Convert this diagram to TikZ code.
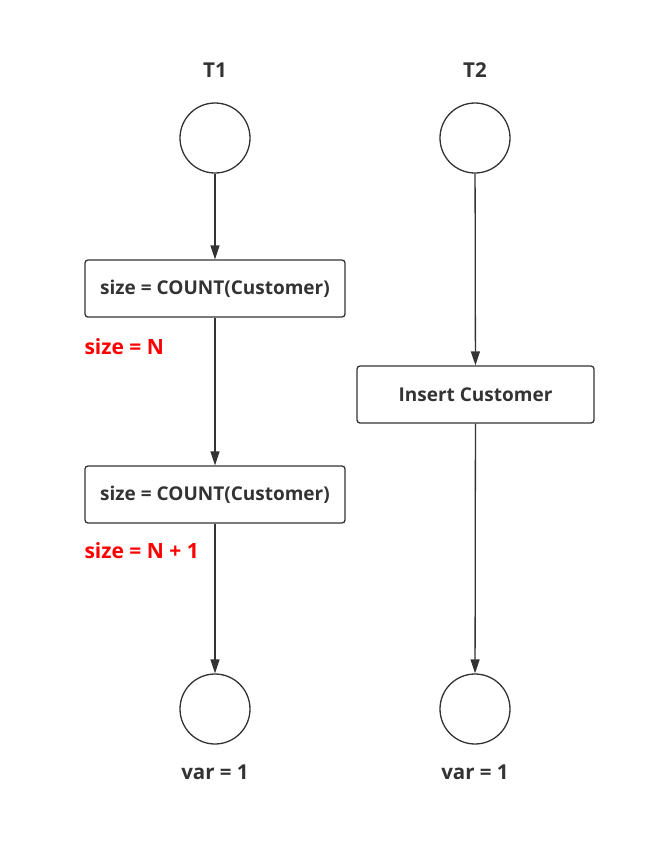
\documentclass[tikz,border=0pt]{standalone}
\usepackage{fontspec}
\setmainfont{Open Sans}
\usepackage{xcolor}
\usetikzlibrary{calc, positioning, arrows.meta}
\definecolor{ink}{HTML}{333333}
\definecolor{note}{HTML}{FF0000}

\begin{document}
\begin{tikzpicture}[x=1pt, y=-1pt, node distance=2.5cm,
    state/.style={draw=ink, line width=1.3pt, circle, minimum size=70pt, inner sep=0pt},
    opbox/.style={draw=ink, line width=1.3pt, rounded corners=3pt, minimum height=57pt, font=\bfseries\fontsize{19}{21}\selectfont, text=ink},
    title/.style={font=\bfseries\fontsize{20.5}{23}\selectfont, text=ink},
    remark/.style={font=\bfseries\fontsize{21}{23}\selectfont, text=note, anchor=west},
    flow/.style={draw=ink, line width=1.3pt, -{Triangle[length=14pt, width=9pt]}}]
    \useasboundingbox (0,0) rectangle (655,855);

    % Nodes
    \node [title] (T1) at (215,70) {T1};
    \node [title] (T2) at (475,70) {T2};
    \node [state] (s1) at (215,138) {};
    \node [state] (s2) at (475,138) {};
    \node [opbox, minimum width=260pt] (c1) at (215,288.5) {size = COUNT(Customer)};
    \node [opbox, minimum width=260pt] (c2) at (215,494.5) {size = COUNT(Customer)};
    \node [opbox, minimum width=237pt] (ins) at (475.5,394.5) {Insert Customer};
    \node [state] (e1) at (215,709) {};
    \node [state] (e2) at (475,709) {};
    \node [title, below=17pt of e1] (v1) {var = 1};
    \node [title, below=17pt of e2] (v2) {var = 1};
    \node [remark] (r1) at (81,347) {size = N};
    \node [remark] (r2) at (81,551) {size = N + 1};

    % Paths
    \draw[flow] (s1) -- (c1);
    \draw[flow] (c1) -- (c2);
    \draw[flow] (c2) -- (e1);
    \draw[flow] (s2) -- (ins);
    \draw[flow] (ins) -- (e2);
\end{tikzpicture}
\end{document}
